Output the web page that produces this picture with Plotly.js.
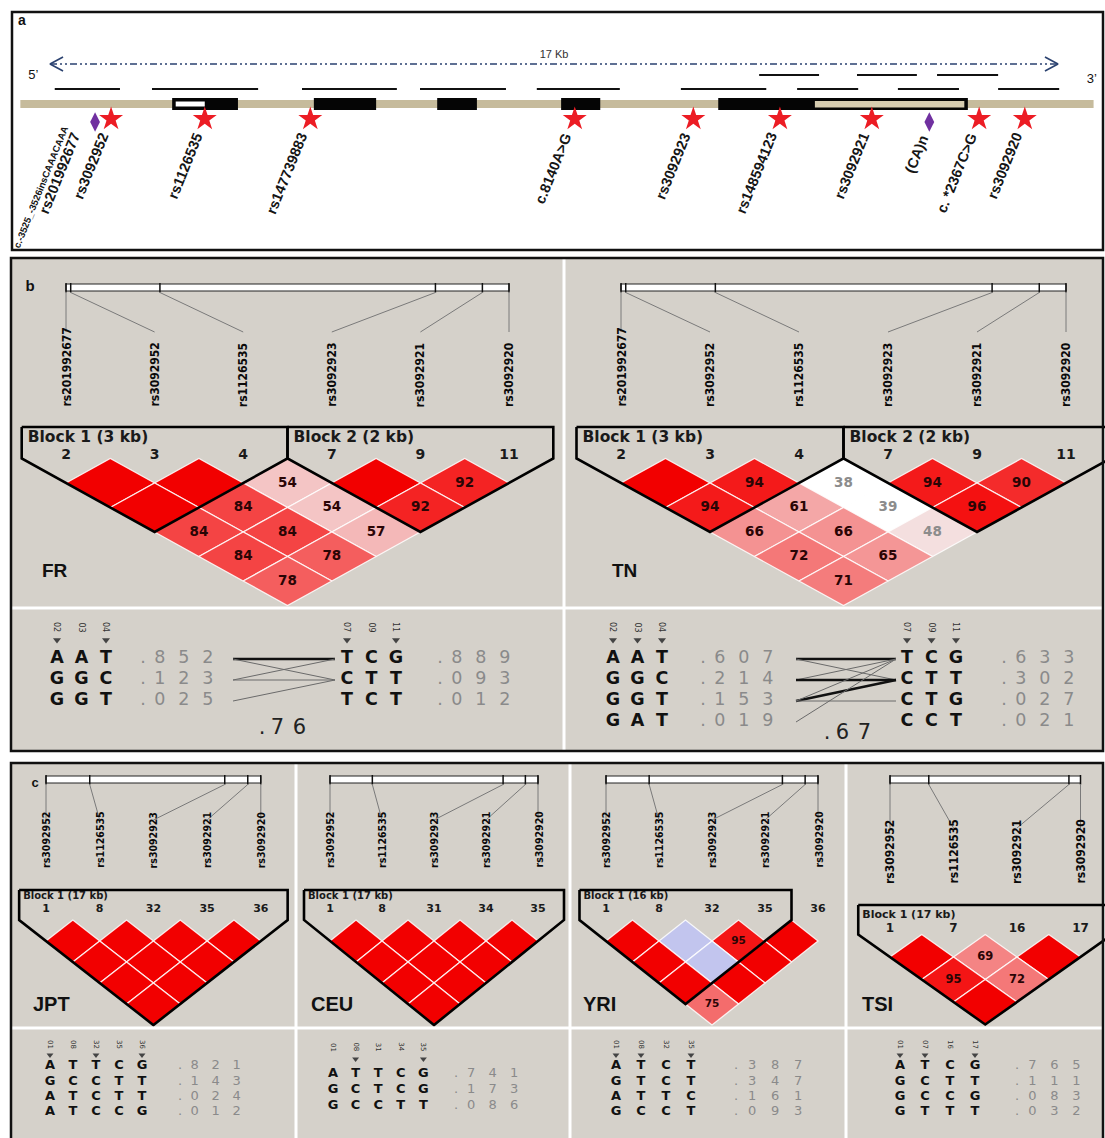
<!DOCTYPE html>
<html><head><meta charset="utf-8">
<script src="https://cdn.plot.ly/plotly-3.0.1.min.js"></script>
<style>html,body{margin:0;padding:0;background:#fff}</style>
</head><body><div id="chart" style="width:1105px;height:1138px"></div>
<script>
// ================= DATA =================
// Panel a : gene map, positions in kb along the 17 kb region
const regionKb = [0, 17];
const regionLabel = '17 Kb';
const backboneKb = [-0.5, 17.6];
const exonStartKb = [2.06, 4.45, 6.53, 8.62, 11.27];
const exonEndKb   = [3.17, 5.50, 7.20, 9.28, 15.48];
const utrStartKb  = [2.12, 12.90];
const utrEndKb    = [2.61, 15.42];
const ampliconStartKb = [0.08, 1.72, 4.25, 6.24, 8.21, 10.64, 12.60, 14.30, 15.99, 11.96, 13.61, 14.96];
const ampliconEndKb   = [1.18, 3.51, 5.85, 7.69, 9.61, 12.08, 13.63, 15.33, 17.02, 12.97, 14.62, 15.99];
const ampliconLane    = [0, 0, 0, 0, 0, 0, 0, 0, 0, 1, 1, 1];
const snpLabels = ['rs3092952', 'rs1126535', 'rs147739883', 'c.8140A>G', 'rs3092923', 'rs148594123', 'rs3092921', 'c. *2367C>G', 'rs3092920'];
const snpKb     = [1.03, 2.61, 4.39, 8.85, 10.85, 12.31, 13.86, 15.67, 16.44];
const indelLabels = ['rs201992677', '(CA)n'];
const indelKb     = [0.76, 14.83];
const indelAltLabel = 'c.-3525_-3526insCAAACAAA';

// Panels b, c : LD markers (relative physical position, kb)
const markerIds = ['rs201992677', 'rs3092952', 'rs1126535', 'rs3092923', 'rs3092921', 'rs3092920'];
const markerKb  = [0, 0.15, 3.0, 11.8, 13.3, 14.15];

// D' (x100) per LD row (row r = pairs of markers i, i+r+1); lod: 1 = LOD>=2, 0 = LOD<2
const frMarkers = [0, 1, 2, 3, 4, 5];
const frNumbers = ['2', '3', '4', '7', '9', '11'];
const frDprime = [[100, 100, 54, 100, 92], [100, 84, 54, 92], [84, 84, 57], [84, 78], [78]];
const frLod    = [[1, 1, 1, 1, 1], [1, 1, 1, 1], [1, 1, 1], [1, 1], [1]];
const frBlocks = [[0, 2], [3, 5]];
const frBlockLabels = ['Block 1 (3 kb)', 'Block 2 (2 kb)'];

const tnMarkers = [0, 1, 2, 3, 4, 5];
const tnNumbers = ['2', '3', '4', '7', '9', '11'];
const tnDprime = [[100, 94, 38, 94, 90], [94, 61, 39, 96], [66, 66, 48], [72, 65], [71]];
const tnLod    = [[1, 1, 0, 1, 1], [1, 1, 0, 1], [1, 1, 1], [1, 1], [1]];
const tnBlocks = [[0, 2], [3, 5]];
const tnBlockLabels = ['Block 1 (3 kb)', 'Block 2 (2 kb)'];

const jptMarkers = [1, 2, 3, 4, 5];
const jptNumbers = ['1', '8', '32', '35', '36'];
const jptDprime = [[100, 100, 100, 100], [100, 100, 100], [100, 100], [100]];
const jptLod    = [[1, 1, 1, 1], [1, 1, 1], [1, 1], [1]];
const jptBlocks = [[0, 4]];
const jptBlockLabels = ['Block 1 (17 kb)'];

const ceuMarkers = [1, 2, 3, 4, 5];
const ceuNumbers = ['1', '8', '31', '34', '35'];
const ceuDprime = [[100, 100, 100, 100], [100, 100, 100], [100, 100], [100]];
const ceuLod    = [[1, 1, 1, 1], [1, 1, 1], [1, 1], [1]];
const ceuBlocks = [[0, 4]];
const ceuBlockLabels = ['Block 1 (17 kb)'];

const yriMarkers = [1, 2, 3, 4, 5];
const yriNumbers = ['1', '8', '32', '35', '36'];
const yriDprime = [[100, 100, 95, 100], [100, 100, 100], [100, 100], [75]];
const yriLod    = [[1, 0, 1, 1], [1, 0, 1], [1, 1], [1]];
const yriBlocks = [[0, 3]];
const yriBlockLabels = ['Block 1 (16 kb)'];

const tsiMarkers = [1, 2, 4, 5];
const tsiNumbers = ['1', '7', '16', '17'];
const tsiDprime = [[100, 69, 100], [95, 72], [100]];
const tsiLod    = [[1, 1, 1], [1, 1], [1]];
const tsiBlocks = [[0, 3]];
const tsiBlockLabels = ['Block 1 (17 kb)'];

// Haplotypes
const frB1Haps = ['AAT', 'GGC', 'GGT'], frB1Freq = ['.852', '.123', '.025'], frB1Head = ['02', '03', '04'], frB1Tag = [1, 0, 1];
const frB2Haps = ['TCG', 'CTT', 'TCT'], frB2Freq = ['.889', '.093', '.012'], frB2Head = ['07', '09', '11'], frB2Tag = [1, 0, 1];
const frCross = [[0, 0, 2], [0, 1, 1], [1, 0, 1], [1, 1, 1], [2, 1, 1]];   // [from, to, weight]
const frMultiD = '.76';
const tnB1Haps = ['AAT', 'GGC', 'GGT', 'GAT'], tnB1Freq = ['.607', '.214', '.153', '.019'], tnB1Head = ['02', '03', '04'], tnB1Tag = [1, 1, 1];
const tnB2Haps = ['TCG', 'CTT', 'CTG', 'CCT'], tnB2Freq = ['.633', '.302', '.027', '.021'], tnB2Head = ['07', '09', '11'], tnB2Tag = [1, 1, 1];
const tnCross = [[0, 0, 2], [0, 1, 1], [1, 0, 1], [1, 1, 2], [2, 1, 2], [2, 0, 1], [2, 2, 1], [3, 0, 1]];
const tnMultiD = '.67';
const jptHaps = ['ATTCG', 'GCCTT', 'ATCTT', 'ATCCG'], jptFreq = ['.821', '.143', '.024', '.012'], jptHead = ['01', '08', '32', '35', '36'], jptTag = [1, 0, 1, 0, 1];
const ceuHaps = ['ATTCG', 'GCTCG', 'GCCTT'], ceuFreq = ['.741', '.173', '.086'], ceuHead = ['01', '08', '31', '34', '35'], ceuTag = [0, 1, 0, 0, 1];
const yriHaps = ['ATCT', 'GTCT', 'ATTC', 'GCCT'], yriFreq = ['.387', '.347', '.161', '.093'], yriHead = ['01', '08', '32', '35'], yriTag = [1, 1, 0, 1];
const tsiHaps = ['ATCG', 'GCTT', 'GCCG', 'GTTT'], tsiFreq = ['.765', '.111', '.083', '.032'], tsiHead = ['01', '07', '16', '17'], tsiTag = [1, 1, 0, 1];

// ================= RENDERING =================
const W = 1105, H = 1138;
const NARROW = "'Liberation Sans Narrow', 'DejaVu Sans Condensed', 'Arial Narrow', sans-serif";
const SANS = "'Liberation Sans', Arial, sans-serif";
const HV = "'DejaVu Sans', Verdana, sans-serif";
const BG = '#d5d1ca';
const traces = [], shapes = [], annotations = [];
const txtGroups = new Map();
function txt(x, y, s, o) {
  const key = JSON.stringify(o);
  if (!txtGroups.has(key)) txtGroups.set(key, {x: [], y: [], text: [], o});
  const g = txtGroups.get(key); g.x.push(x); g.y.push(y); g.text.push(s);
}
function line(xs, ys, color, width, dash, xa) {
  traces.push({type: 'scatter', mode: 'lines', x: xs, y: ys, xaxis: xa || 'x', yaxis: 'y',
    line: {color, width, dash: dash || 'solid'}, hoverinfo: 'skip'});
}
function poly(xs, ys, fill, lc, lw) {
  traces.push({type: 'scatter', mode: 'lines', x: xs.concat([xs[0]]), y: ys.concat([ys[0]]),
    fill: 'toself', fillcolor: fill, line: {color: lc, width: lw}, hoverinfo: 'skip'});
}
function rect(x0, y0, x1, y1, fill, lc, lw, layer, xref) {
  shapes.push({type: 'rect', xref: xref || 'x', yref: 'y', x0, y0, x1, y1, fillcolor: fill,
    line: {color: lc || 'rgba(0,0,0,0)', width: lw || 0}, layer: layer || 'below'});
}
function rot(x, y, s, angle, size, color, family, xanchor, yanchor, xref, weight) {
  annotations.push({x, y, xref: xref || 'x', yref: 'y', text: s, textangle: angle, showarrow: false,
    xanchor: xanchor || 'center', yanchor: yanchor || 'middle',
    font: {size, color, family, weight: weight || 'normal'}});
}

// ---------- panel frames ----------
rect(11, 258, 1103, 751, BG, null, 0, 'below');
rect(11, 763, 1103, 1150, BG, null, 0, 'below');

// ---------- panel a ----------
const KBPX = (1058 - 50) / (regionKb[1] - regionKb[0]);
const xa2Range = [-50 / KBPX, (W - 50) / KBPX];
txt(22, 21, 'a', {size: 14, color: '#111', family: SANS, weight: 'bold'});
line(regionKb, [64, 64], '#2b4270', 1.5, '7px,3px,2px,3px,2px,3px', 'x2');
line([regionKb[0] + 0.22, regionKb[0], regionKb[0] + 0.22], [57, 64, 71], '#2b4270', 1.6, 'solid', 'x2');
line([regionKb[1] - 0.22, regionKb[1], regionKb[1] - 0.22], [57, 64, 71], '#2b4270', 1.6, 'solid', 'x2');
txt((regionKb[0] + regionKb[1]) / 2, 55, regionLabel, {xa: 'x2', size: 11, color: '#333', family: SANS});
txt(regionKb[0] - 0.28, 76, "5’", {xa: 'x2', size: 13, color: '#111', family: SANS});
txt(regionKb[1] + 0.57, 80, "3’", {xa: 'x2', size: 13, color: '#111', family: SANS});
// amplicons
[0, 1].forEach(lane => {
  const xs = [], ys = [];
  ampliconStartKb.forEach((s, k) => {
    if (ampliconLane[k] !== lane) return;
    xs.push(s, ampliconEndKb[k], null); ys.push(lane ? 75 : 89, lane ? 75 : 89, null);
  });
  line(xs, ys, '#111', 2.2, 'solid', 'x2');
});
// backbone + exons
shapes.push({type: 'line', xref: 'x2', yref: 'y', x0: backboneKb[0], x1: backboneKb[1], y0: 104, y1: 104,
  line: {color: '#c6bb9c', width: 8}, layer: 'below'});
exonStartKb.forEach((s, k) => rect(s, 98, exonEndKb[k], 110, '#050505', null, 0, 'below', 'x2'));
rect(utrStartKb[0], 101.5, utrEndKb[0], 106.5, '#ffffff', null, 0, 'below', 'x2');
rect(utrStartKb[1], 101, utrEndKb[1], 107.5, '#d6ccb0', null, 0, 'below', 'x2');
// SNP stars and indel diamonds
traces.push({type: 'scatter', mode: 'markers', x: snpKb, y: snpKb.map(() => 119), xaxis: 'x2',
  marker: {symbol: 'star', size: 18, color: '#ec1c24', line: {width: 0}}, hoverinfo: 'skip'});
traces.push({type: 'scatter', mode: 'markers', x: indelKb, y: indelKb.map(() => 122), xaxis: 'x2',
  marker: {symbol: 'diamond-tall', size: 14, color: '#7030a0', line: {width: 0}}, hoverinfo: 'skip'});
snpLabels.forEach((s, k) => rot(snpKb[k] + 3 / KBPX, 128, s, -68, 14.5, '#151515', SANS, 'right', 'top', 'x2', 'bold'));
rot(indelKb[0] - 9 / KBPX, 128, indelLabels[0], -68, 14.5, '#151515', SANS, 'right', 'top', 'x2', 'bold');
rot(indelKb[0] - 22 / KBPX, 121, indelAltLabel, -68, 9.5, '#151515', SANS, 'right', 'top', 'x2', 'bold');
rot(indelKb[1] + 4 / KBPX, 131, indelLabels[1], -68, 14.5, '#151515', SANS, 'right', 'top', 'x2', 'bold');

// ---------- LD plots ----------
function cellColor(d, lod) {
  if (!lod) return d >= 100 ? '#c2c5ee' : '#ffffff';
  if (d >= 100) return '#f20000';
  const v = Math.min(255, Math.round(223 * 2 * (1 - d / 100)));
  return 'rgb(244,' + Math.round(v * 0.96) + ',' + Math.round(v * 0.96) + ')';
}
function cellText(d, lod) {
  if (!lod) return '#8c8c8c';
  const v = Math.round(223 * 2 * (1 - d / 100));
  return v >= 225 ? '#8c8c8c' : '#2a0505';
}
function drawLD(p, g) {
  const n = p.markers.length, hw = g.dx / 2;
  const X = i => g.X0 + g.dx * i;
  const kb = p.markers.map(m => markerKb[m]);
  const bx = k => X(0) + (k - kb[0]) / (kb[n - 1] - kb[0]) * (X(n - 1) - X(0));
  rect(X(0), g.barY0, X(n - 1), g.barY1, '#ffffff', '#222', 1, 'below');
  kb.forEach((k, i) => {
    line([bx(k), bx(k)], [g.barY0 - 1, g.barY1 + 1.5], '#111', 1.5);
    line([bx(k), X(i)], [g.barY1 + 1.5, g.lineEnd], '#7a7a7a', 1);
    rot(X(i), g.lblBottom, markerIds[p.markers[i]], -90, g.lblSize, '#0a0a0a', NARROW, 'center', 'bottom', 'x', 'bold');
    txt(X(i), g.numY, p.numbers[i], {size: g.numSize, color: '#1a1a1a', family: HV, weight: 'bold'});
  });
  p.dprime.forEach((row, r) => row.forEach((d, i) => {
    const j = i + r + 1, cx = (X(i) + X(j)) / 2, cy = g.c1 + r * g.hh, lod = p.lod[r][i];
    poly([cx - hw, cx, cx + hw, cx], [cy, cy - g.hh, cy, cy + g.hh], cellColor(d, lod), 'rgba(255,255,255,0.85)', 1.3);
    if (d < 100) txt(cx, cy + 0.5, String(d), {size: g.cellSize, color: cellText(d, lod), family: HV, weight: 'bold'});
  }));
  p.blocks.forEach((bk, b) => {
    const s = bk[0], e = bk[1];
    const xl = X(s) - hw, xr = X(e) + hw, yv = g.c1 - g.hh;
    line([xl, xr, xr, (X(s) + X(e)) / 2, xl, xl], [g.top, g.top, yv, g.c1 + (e - s) * g.hh, yv, g.top], '#000', 2.6);
    txt(xl + g.blkDx, g.blkY, p.blockLabels[b], {pos: 'middle right', size: g.blkSize, color: '#1a1a1a', family: HV, weight: 'bold'});
  });
  txt(g.popX, g.popY, p.name, {pos: 'middle right', size: g.popSize, color: '#111', family: SANS, weight: 'bold'});
}
const geoB = {dx: 88.6, c1: 483, hh: 24.5, top: 427, numY: 455, blkY: 438, barY0: 284, barY1: 291, lblBottom: 409, lineEnd: 332,
  lblSize: 12, numSize: 14, blkSize: 15.5, cellSize: 13.5, popY: 572, popSize: 19, blkDx: 6};
const geoC = {dx: 53.7, c1: 941, hh: 21, top: 890, numY: 909, blkY: 896, barY0: 776, barY1: 783, lblBottom: 870, lineEnd: 820,
  lblSize: 10.5, numSize: 11, blkSize: 10, cellSize: 10.5, popY: 1006, popSize: 20, blkDx: 4};
drawLD({name: 'FR', markers: frMarkers, numbers: frNumbers, dprime: frDprime, lod: frLod, blocks: frBlocks, blockLabels: frBlockLabels},
  Object.assign({}, geoB, {X0: 66, popX: 42}));
drawLD({name: 'TN', markers: tnMarkers, numbers: tnNumbers, dprime: tnDprime, lod: tnLod, blocks: tnBlocks, blockLabels: tnBlockLabels},
  Object.assign({}, geoB, {X0: 621, dx: 89, popX: 612}));
drawLD({name: 'JPT', markers: jptMarkers, numbers: jptNumbers, dprime: jptDprime, lod: jptLod, blocks: jptBlocks, blockLabels: jptBlockLabels},
  Object.assign({}, geoC, {X0: 46, popX: 33}));
drawLD({name: 'CEU', markers: ceuMarkers, numbers: ceuNumbers, dprime: ceuDprime, lod: ceuLod, blocks: ceuBlocks, blockLabels: ceuBlockLabels},
  Object.assign({}, geoC, {X0: 330, dx: 52, popX: 311}));
drawLD({name: 'YRI', markers: yriMarkers, numbers: yriNumbers, dprime: yriDprime, lod: yriLod, blocks: yriBlocks, blockLabels: yriBlockLabels},
  Object.assign({}, geoC, {X0: 606, dx: 53, popX: 583}));
drawLD({name: 'TSI', markers: tsiMarkers, numbers: tsiNumbers, dprime: tsiDprime, lod: tsiLod, blocks: tsiBlocks, blockLabels: tsiBlockLabels},
  Object.assign({}, geoC, {X0: 890, dx: 63.5, c1: 957, hh: 22.5, top: 905, numY: 929, blkY: 915, lblBottom: 886, lineEnd: 828,
    lblSize: 12, numSize: 12, blkSize: 11, cellSize: 11.5, popX: 862}));

// ---------- haplotype tables ----------
function hapBlock(h, g) {
  h.haps.forEach((hp, r) => {
    hp.split('').forEach((ch, c) => txt(g.lx0 + c * g.lp, g.rows[r], ch, {size: g.size, color: '#111', family: HV, weight: 'bold'}));
    h.freq[r].split('').forEach((ch, c) => txt(g.fx0 + (c ? c * g.fp - g.fp * 0.3 : 0), g.rows[r], ch, {size: g.fsize, color: '#8a8a8a', family: HV}));
  });
  h.head.forEach((lab, c) => rot(g.lx0 + c * g.lp, g.headY, lab, 90, g.headSize, '#333', HV, 'center', 'middle'));
  const tx = [], ty = [];
  h.tag.forEach((t, c) => { if (t) { tx.push(g.lx0 + c * g.lp); ty.push(g.triY); } });
  traces.push({type: 'scatter', mode: 'markers', x: tx, y: ty,
    marker: {symbol: 'triangle-down', size: g.triSize, color: '#444', line: {width: 0}}, hoverinfo: 'skip'});
}
function crossLines(cross, rowsY, x0, x1) {
  cross.forEach(c => line([x0, x1], [rowsY[c[0]], rowsY[c[1]]], c[2] > 1 ? '#111' : '#6a6a6a', c[2] > 1 ? 2.4 : 1));
}
function multiD(s, x0, y, pitch) {
  s.split('').forEach((ch, c) => txt(x0 + (c ? c * pitch - pitch * 0.3 : 0), y, ch, {size: 21, color: '#222', family: HV}));
}
const rowsB = [659, 680, 701, 722];
const hb = {lp: 24.5, fp: 24, size: 17.5, fsize: 17.5, headY: 627, triY: 640, headSize: 8, triSize: 7};
hapBlock({haps: frB1Haps, freq: frB1Freq, head: frB1Head, tag: frB1Tag}, Object.assign({}, hb, {lx0: 57, fx0: 143, rows: rowsB}));
hapBlock({haps: frB2Haps, freq: frB2Freq, head: frB2Head, tag: frB2Tag}, Object.assign({}, hb, {lx0: 347, fx0: 440, rows: rowsB}));
crossLines(frCross, rowsB, 233, 335);
multiD(frMultiD, 262, 729, 22);
hapBlock({haps: tnB1Haps, freq: tnB1Freq, head: tnB1Head, tag: tnB1Tag}, Object.assign({}, hb, {lx0: 613, fx0: 703, rows: rowsB}));
hapBlock({haps: tnB2Haps, freq: tnB2Freq, head: tnB2Head, tag: tnB2Tag}, Object.assign({}, hb, {lx0: 907, fx0: 1004, rows: rowsB}));
crossLines(tnCross, rowsB, 796, 896);
multiD(tnMultiD, 827, 734, 22);

const hc = {size: 13, fsize: 13, headY: 1044, triY: 1055, headSize: 7, triSize: 6};
const rowsC4 = [1066, 1081.4, 1096.8, 1112.2], rowsC3 = [1074, 1090, 1106];
hapBlock({haps: jptHaps, freq: jptFreq, head: jptHead, tag: jptTag}, Object.assign({}, hc, {lx0: 50, lp: 23, fx0: 180, fp: 21, rows: rowsC4}));
hapBlock({haps: ceuHaps, freq: ceuFreq, head: ceuHead, tag: ceuTag}, Object.assign({}, hc, {lx0: 333, lp: 22.6, fx0: 456, fp: 21.5, rows: rowsC3, headY: 1047, triY: 1059}));
hapBlock({haps: yriHaps, freq: yriFreq, head: yriHead, tag: yriTag}, Object.assign({}, hc, {lx0: 616, lp: 25, fx0: 736, fp: 23, rows: rowsC4}));
hapBlock({haps: tsiHaps, freq: tsiFreq, head: tsiHead, tag: tsiTag}, Object.assign({}, hc, {lx0: 900, lp: 25, fx0: 1017, fp: 22, rows: rowsC4}));

txt(30, 287, 'b', {size: 15, color: '#111', family: SANS, weight: 'bold'});
txt(35, 784, 'c', {size: 13, color: '#111', family: SANS, weight: 'bold'});

// separators and borders (above)
[[564, 259, 564, 750], [12, 608, 1102, 608], [296, 764, 296, 1138], [570, 764, 570, 1138], [846, 764, 846, 1138], [12, 1028, 1102, 1028]]
  .forEach(s => shapes.push({type: 'line', xref: 'x', yref: 'y', x0: s[0], y0: s[1], x1: s[2], y1: s[3], line: {color: '#ffffff', width: 3}, layer: 'above'}));
rect(12, 12, 1103, 250, 'rgba(0,0,0,0)', '#111', 2.5, 'above');
rect(11, 258, 1103, 751, 'rgba(0,0,0,0)', '#111', 2.5, 'above');
rect(11, 763, 1103, 1150, 'rgba(0,0,0,0)', '#111', 2.5, 'above');

for (const g of txtGroups.values()) {
  traces.push({type: 'scatter', mode: 'text', x: g.x, y: g.y, text: g.text, xaxis: g.o.xa || 'x', yaxis: 'y',
    textposition: g.o.pos || 'middle center', cliponaxis: false, hoverinfo: 'skip',
    textfont: {family: g.o.family, size: g.o.size, color: g.o.color, weight: g.o.weight || 'normal'}});
}

const layout = {
  width: W, height: H, margin: {l: 0, r: 0, t: 0, b: 0}, showlegend: false,
  paper_bgcolor: '#ffffff', plot_bgcolor: 'rgba(0,0,0,0)',
  xaxis: {range: [0, W], visible: false, fixedrange: true},
  xaxis2: {range: xa2Range, visible: false, fixedrange: true, overlaying: 'x', anchor: 'y'},
  yaxis: {range: [H, 0], visible: false, fixedrange: true},
  shapes, annotations
};
Plotly.newPlot('chart', traces, layout, {staticPlot: true, displayModeBar: false});
</script></body></html>
